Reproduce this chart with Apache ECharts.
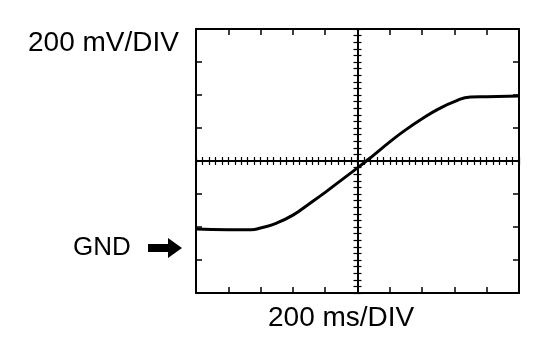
<!DOCTYPE html>
<html>
<head>
<meta charset="utf-8">
<script src="https://cdn.jsdelivr.net/npm/echarts@6/dist/echarts.min.js"></script>
<style>
html,body{margin:0;padding:0;background:#fff;}
#chart{width:556px;height:348px;}
</style>
</head>
<body>
<div id="chart"></div>
<script>
// Time in divisions relative to screen centre (200 ms/DIV)
const timeDiv = [-5, -4, -3.3, -3, -2.5, -2, -1.5, -1, -0.5, 0, 0.5, 1, 1.5, 2, 2.5, 3, 3.5, 4, 5];
// Voltage in divisions relative to screen centre (200 mV/DIV)
const voltDiv = [-2.06, -2.08, -2.08, -2.03, -1.88, -1.64, -1.30, -0.95, -0.58, -0.21, 0.18, 0.58, 0.95, 1.28, 1.57, 1.80, 1.94, 1.95, 1.97];
const yLabel = '200 mV/DIV';
const xLabel = '200 ms/DIV';
const gndLabel = 'GND';

const font = '"Liberation Sans", Arial, sans-serif';
const black = '#000';

function xAx(opts) {
  return Object.assign({
    type: 'value', min: -5, max: 5, interval: 1, gridIndex: 0,
    axisLabel: { show: false }, splitLine: { show: false },
    axisLine: { show: true, onZero: false, lineStyle: { color: black, width: 2 } },
    axisTick: { show: true, inside: true, length: 6, lineStyle: { color: black, width: 1.5 } },
    minorTick: { show: false }
  }, opts);
}
function yAx(opts) {
  return Object.assign({
    type: 'value', min: -4, max: 4, interval: 1, gridIndex: 0,
    axisLabel: { show: false }, splitLine: { show: false },
    axisLine: { show: true, onZero: false, lineStyle: { color: black, width: 2 } },
    axisTick: { show: true, inside: true, length: 6, lineStyle: { color: black, width: 1.5 } },
    minorTick: { show: false }
  }, opts);
}
const centreTick = (inside) => ({ show: true, inside: inside, length: 4, lineStyle: { color: black, width: 1.2 } });
const centreMinor = { show: true, splitNumber: 5, length: 4, lineStyle: { color: black, width: 1.2 } };

const chart = echarts.init(document.getElementById('chart'), null, { renderer: 'canvas' });
chart.setOption({
  animation: false,
  backgroundColor: '#fff',
  grid: { left: 196, top: 29, right: 37, bottom: 55, containLabel: false, show: false },
  xAxis: [
    xAx({ position: 'bottom' }),
    xAx({ position: 'top' }),
    xAx({ position: 'bottom', axisLine: { show: true, onZero: true, onZeroAxisIndex: 0, lineStyle: { color: black, width: 2 } }, axisTick: centreTick(true), minorTick: centreMinor }),
    xAx({ position: 'bottom', axisLine: { show: true, onZero: true, onZeroAxisIndex: 0, lineStyle: { color: black, width: 2 } }, axisTick: centreTick(false), minorTick: centreMinor })
  ],
  yAxis: [
    yAx({ position: 'left' }),
    yAx({ position: 'right' }),
    yAx({ position: 'left', axisLine: { show: true, onZero: true, onZeroAxisIndex: 0, lineStyle: { color: black, width: 2 } }, axisTick: centreTick(true), minorTick: centreMinor }),
    yAx({ position: 'left', axisLine: { show: true, onZero: true, onZeroAxisIndex: 0, lineStyle: { color: black, width: 2 } }, axisTick: centreTick(false), minorTick: centreMinor })
  ],
  series: [{
    type: 'line',
    xAxisIndex: 0, yAxisIndex: 0,
    data: timeDiv.map((t, i) => [t, voltDiv[i]]),
    smooth: 0.5,
    showSymbol: false,
    lineStyle: { color: black, width: 3 },
    z: 10
  }],
  graphic: [
    { type: 'text', left: 28, top: 29, style: { text: yLabel, font: '28px ' + font, fill: black } },
    { type: 'text', left: 268, top: 304, style: { text: xLabel, font: '28px ' + font, fill: black } },
    { type: 'text', left: 73, top: 235, style: { text: gndLabel, font: '26px ' + font, fill: black } },
    { type: 'polygon', shape: { points: [[148,244],[168,244],[168,238],[182,248],[168,258],[168,252],[148,252]] }, style: { fill: black } }
  ]
});
</script>
</body>
</html>
